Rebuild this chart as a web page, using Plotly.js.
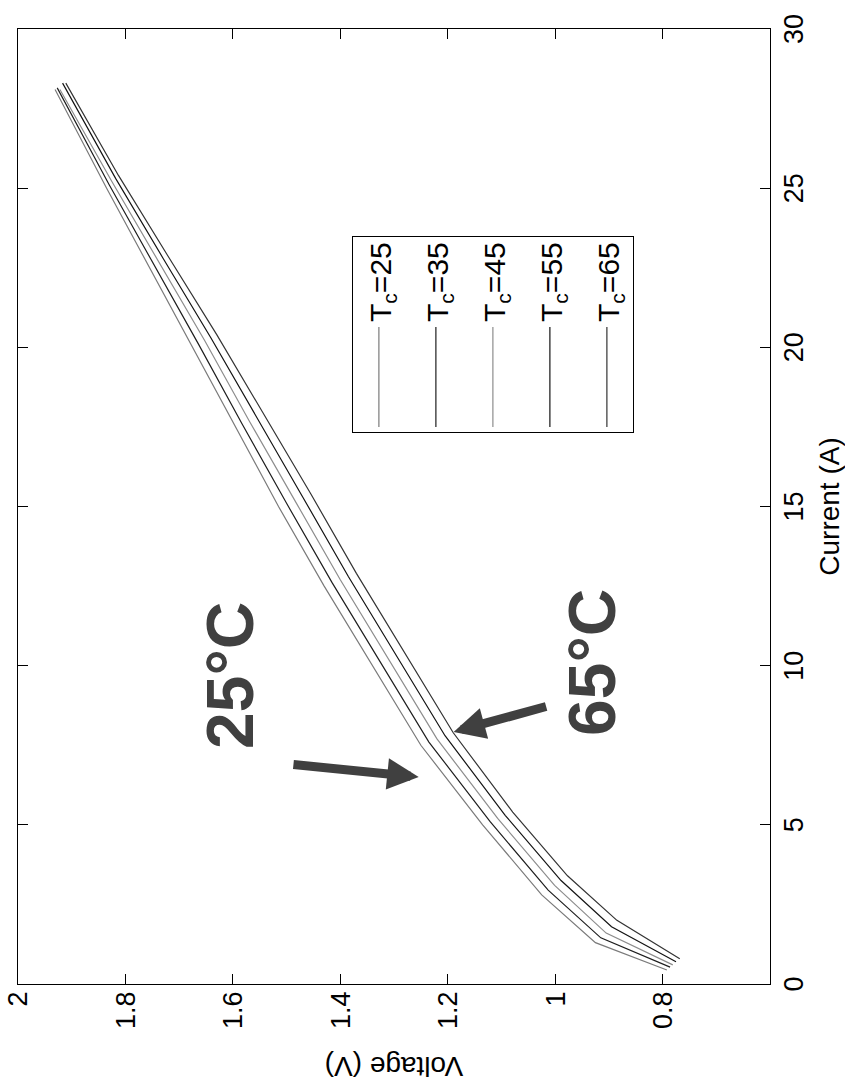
<!DOCTYPE html>
<html>
<head>
<meta charset="utf-8">
<script src="https://cdn.plot.ly/plotly-3.0.1.min.js"></script>
<style>
  html, body { margin: 0; padding: 0; background: #ffffff; overflow: hidden; }
  body { width: 845px; height: 1090px; position: relative; }
  #chart {
    position: absolute; left: 0; top: 0;
    width: 1090px; height: 845px;
    transform-origin: 0 0;
    transform: translate(0px, 1090px) rotate(-90deg);
  }
</style>
</head>
<body>
<div id="chart"></div>
<script>
// ---- data ----
const seriesNames = ['T<sub>c</sub>=25', 'T<sub>c</sub>=35', 'T<sub>c</sub>=45', 'T<sub>c</sub>=55', 'T<sub>c</sub>=65'];

const current25 = [0.44, 1.30, 2.80, 5.0, 7.5, 10.0, 12.5, 15.0, 17.5, 20.0, 22.5, 25.0, 28.10];
const voltage25 = [0.792, 0.925, 1.025, 1.135, 1.250, 1.340, 1.430, 1.515, 1.595, 1.675, 1.755, 1.835, 1.931];

const current35 = [0.53, 1.45, 2.95, 5.1, 7.6, 10.1, 12.6, 15.1, 17.6, 20.1, 22.6, 25.1, 28.15];
const voltage35 = [0.786, 0.915, 1.013, 1.121, 1.235, 1.325, 1.415, 1.500, 1.583, 1.664, 1.747, 1.830, 1.927];

const current45 = [0.60, 1.60, 3.10, 5.2, 7.7, 10.2, 12.7, 15.2, 17.7, 20.2, 22.7, 25.2, 28.10];
const voltage45 = [0.781, 0.905, 1.001, 1.107, 1.220, 1.310, 1.400, 1.485, 1.570, 1.652, 1.738, 1.825, 1.922];

const current55 = [0.70, 1.80, 3.25, 5.3, 7.8, 10.3, 12.8, 15.3, 17.8, 20.3, 22.8, 25.3, 28.30];
const voltage55 = [0.775, 0.895, 0.989, 1.093, 1.205, 1.295, 1.385, 1.470, 1.556, 1.641, 1.730, 1.818, 1.917];

const current65 = [0.79, 2.00, 3.40, 5.4, 7.9, 10.4, 12.9, 15.4, 17.9, 20.4, 22.9, 25.4, 28.30];
const voltage65 = [0.768, 0.885, 0.977, 1.079, 1.190, 1.280, 1.370, 1.455, 1.542, 1.630, 1.722, 1.813, 1.911];

const lineColors = ['#7a7a7a', '#1e1e1e', '#8c8c8c', '#141414', '#333333'];

const currentTicks = [0, 5, 10, 15, 20, 25, 30];
const voltageTicks = [0.8, 1.0, 1.2, 1.4, 1.6, 1.8, 2.0];
const voltageTickText = ['0.8', '1', '1.2', '1.4', '1.6', '1.8', '2'];

const xs = [current25, current35, current45, current55, current65];
const ys = [voltage25, voltage35, voltage45, voltage55, voltage65];

const font = 'Liberation Sans, Arial, Helvetica, sans-serif';

const traces = seriesNames.map((name, i) => ({
  x: xs[i], y: ys[i], name: name,
  type: 'scatter', mode: 'lines',
  legendgroup: 'g' + i,
  line: { color: lineColors[i], width: 1.2 }
}));

const handFont = { family: 'Liberation Sans, Arial, sans-serif', size: 66, color: '#404040' };

const layout = {
  width: 1090, height: 845,
  margin: { l: 106, r: 29, t: 18, b: 75 },
  paper_bgcolor: '#ffffff', plot_bgcolor: '#ffffff',
  font: { family: font, size: 27, color: '#000000' },
  showlegend: true,
  legend: {
    x: 0.577, y: 0.556, xanchor: 'left', yanchor: 'top',
    bgcolor: '#ffffff', bordercolor: '#000000', borderwidth: 1,
    font: { family: font, size: 30, color: '#000000' },
    tracegroupgap: 15, itemwidth: 100
  },
  xaxis: {
    range: [0, 30], tickvals: currentTicks,
    ticks: 'inside', ticklen: 10, tickcolor: '#000', tickwidth: 1,
    showline: true, linecolor: '#000', linewidth: 1, mirror: 'ticks',
    showgrid: false, zeroline: false,
    tickfont: { family: font, size: 27 },
    ticklabelstandoff: 0,
    title: { text: 'Current (A)', font: { family: font, size: 28 }, standoff: 16 }
  },
  yaxis: {
    range: [0.6, 2], tickvals: voltageTicks, ticktext: voltageTickText,
    ticks: 'inside', ticklen: 10, tickcolor: '#000', tickwidth: 1,
    showline: true, linecolor: '#000', linewidth: 1, mirror: 'ticks',
    showgrid: false, zeroline: false,
    tickfont: { family: font, size: 27 },
    ticklabelstandoff: 1,
    title: { text: 'Voltage (V)', font: { family: font, size: 28 }, standoff: 19 }
  },
  annotations: [
    { x: 9.7, y: 1.606, xref: 'x', yref: 'y', text: '<b>25°C</b>', showarrow: false, font: handFont },
    { x: 6.5, y: 1.254, ax: 6.9, ay: 1.49, xref: 'x', yref: 'y', axref: 'x', ayref: 'y',
      text: '', showarrow: true, arrowhead: 2, arrowsize: 0.7, arrowwidth: 9, arrowcolor: '#404040' },
    { x: 10.1, y: 0.932, xref: 'x', yref: 'y', text: '<b>65°C</b>', showarrow: false, font: handFont },
    { x: 7.92, y: 1.189, ax: 8.73, ay: 1.014, xref: 'x', yref: 'y', axref: 'x', ayref: 'y',
      text: '', showarrow: true, arrowhead: 2, arrowsize: 0.7, arrowwidth: 9, arrowcolor: '#404040' }
  ]
};

Plotly.newPlot('chart', traces, layout, { staticPlot: true, displayModeBar: false });
</script>
</body>
</html>
